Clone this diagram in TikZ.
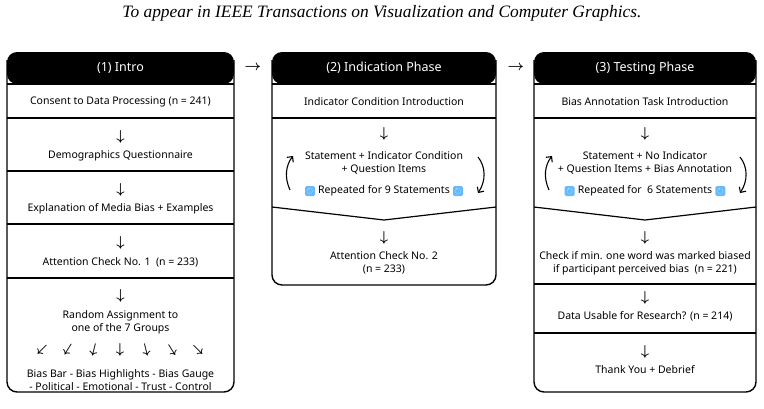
\documentclass[tikz,border=0pt]{standalone}
\usepackage{fontspec}
\usepackage{amsmath}
\usepackage{amssymb}
\setmainfont{Noto Sans}
\newfontfamily\capfont{Liberation Serif}
\usetikzlibrary{arrows.meta}
\tikzset{txt/.style= {font=\fontsize{10.5}{13}\selectfont, align=center, inner sep=0pt},
    head/.style= {font=\fontsize{12.5}{15}\selectfont, text=white, inner sep=0pt},
    dn/.style= {font=\fontsize{15}{16}\selectfont\boldmath, inner sep=0pt},
    icon/.style= {fill=blue!45!cyan!60, rounded corners=1.5pt, minimum size=10pt, inner sep=0pt, text=white, font=\fontsize{8}{8}\selectfont\boldmath},
    loop/.style= {-{Straight Barb[length=4pt]}, line width=1.1pt}}

\begin{document}
\begin{tikzpicture}[x=1pt,y=-1pt]
        \useasboundingbox (0,0) rectangle (764,408);
        \node[font=\capfont\itshape\fontsize{17.4}{19}\selectfont](title)at(382,13){To appear in IEEE Transactions on Visualization and Computer Graphics.};

        % (1) intro
        \fill[rounded corners=10pt](7,84)--(7,52)--(234,52)--(234,84)--cycle;
        \draw[line width=1.4pt,rounded corners=10pt](7,60)--(7,392)--(234,392)--(234,60);
        \foreach \y in {84,118,171,224,278}
            \draw[line width=1.2pt](7,\y)--(234,\y);
        \node[head](h1)at(120.5,68){(1) Intro};
        \node[txt](consent)at(120.5,102){Consent to Data Processing (n = 241)};
        \node[dn](d1)at(120.5,137){$\downarrow$};
        \node[txt](demo)at(120.5,156){Demographics Questionnaire};
        \node[dn](d2)at(120.5,190){$\downarrow$};
        \node[txt](expl)at(120.5,209){Explanation of Media Bias + Examples};
        \node[dn](d3)at(120.5,243){$\downarrow$};
        \node[txt](att1)at(120.5,262){Attention Check No. 1\ \ (n = 233)};
        \node[dn](d4)at(120.5,296){$\downarrow$};
        \node[txt](rand)at(120.5,322){Random Assignment to\\one of the 7 Groups};
        \foreach \i/\a in {0/-45,1/-32,2/-14,3/0,4/14,5/32,6/45}
            \node[dn,rotate=\a](g\i)at(42+\i*26,350){$\downarrow$};
        \node[txt](groups)at(120.5,380){Bias Bar - Bias Highlights - Bias Gauge\\- Political - Emotional - Trust - Control};

        \node[dn](r1)at(253,68){$\rightarrow$};
        \node[dn](r2)at(516,68){$\rightarrow$};

        % (2) indication
        \fill[rounded corners=10pt](272,84)--(272,52)--(496,52)--(496,84)--cycle;
        \draw[line width=1.4pt,rounded corners=10pt](272,60)--(272,285)--(496,285)--(496,60);
        \draw[line width=1.2pt](272,84)--(496,84);
        \draw[line width=1.2pt](272,118)--(496,118);
        \draw[line width=1.2pt](272,207)--(384,220)--(496,207);
        \node[head](h2)at(384,68){(2) Indication Phase};
        \node[txt](ind)at(384,102){Indicator Condition Introduction};
        \node[dn](e1)at(384,134){$\downarrow$};
        \node[txt](stm2)at(384,163){Statement + Indicator Condition\\+ Question Items};
        \node[txt](rep2)at(384,191){Repeated for 9 Statements};
        \node[icon](i2a)at([xshift=-8pt]rep2.west){$\circlearrowright$};
        \node[icon](i2b)at([xshift=8pt]rep2.east){$\circlearrowright$};
        \draw[loop](290,190)..controls(284,177)and(286,165)..(293,156);
        \draw[loop](478,157)..controls(486,167)and(486,181)..(478,193);
        \node[dn](e2)at(384,238){$\downarrow$};
        \node[txt](att2)at(384,263){Attention Check No. 2\\(n = 233)};

        % (3) testing
        \fill[rounded corners=10pt](534,84)--(534,52)--(756,52)--(756,84)--cycle;
        \draw[line width=1.4pt,rounded corners=10pt](534,60)--(534,392)--(756,392)--(756,60);
        \draw[line width=1.2pt](534,84)--(756,84);
        \draw[line width=1.2pt](534,118)--(756,118);
        \draw[line width=1.2pt](534,207)--(645,220)--(756,207);
        \draw[line width=1.2pt](534,284)--(756,284);
        \draw[line width=1.2pt](534,333)--(756,333);
        \node[head](h3)at(645,68){(3) Testing Phase};
        \node[txt](bias)at(645,102){Bias Annotation Task Introduction};
        \node[dn](f1)at(645,134){$\downarrow$};
        \node[txt](stm3)at(645,163){Statement + No Indicator\\+ Question Items + Bias Annotation};
        \node[txt](rep3)at(645,191){Repeated for\ \ 6 Statements};
        \node[icon](i3a)at([xshift=-8pt]rep3.west){$\circlearrowright$};
        \node[icon](i3b)at([xshift=8pt]rep3.east){$\circlearrowright$};
        \draw[loop](549,190)..controls(543,177)and(545,165)..(552,156);
        \draw[loop](740,157)..controls(748,167)and(748,181)..(740,193);
        \node[dn](f2)at(645,238){$\downarrow$};
        \node[txt](chk)at(645,263){Check if min. one word was marked biased\\if participant perceived bias\ \ (n = 221)};
        \node[dn](f3)at(645,298){$\downarrow$};
        \node[txt](usable)at(645,316){Data Usable for Research? (n = 214)};
        \node[dn](f4)at(645,352){$\downarrow$};
        \node[txt](thanks)at(645,370){Thank You + Debrief};
    \end{tikzpicture}
\end{document}
